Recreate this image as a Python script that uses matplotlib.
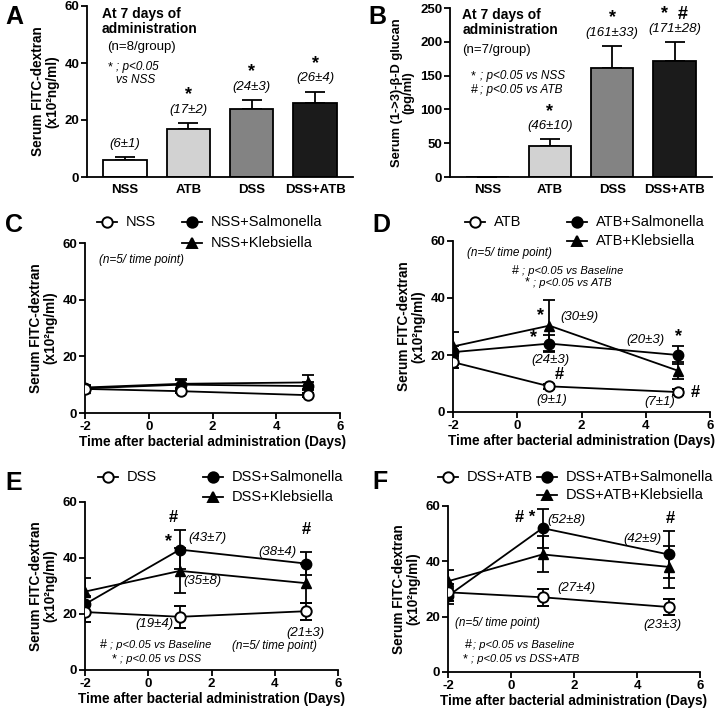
import matplotlib
matplotlib.use("Agg")
import matplotlib.pyplot as plt
from matplotlib.lines import Line2D

plt.rcParams['font.family'] = ['Liberation Sans', 'DejaVu Sans']
plt.rcParams['axes.unicode_minus'] = False

W, H = 720, 709

# ---- panels A and B (bars) ----
groups = ['NSS', 'ATB', 'DSS', 'DSS+ATB']
bar_colors = ['white', '#d2d2d2', '#838383', '#1b1b1b']
fitc_mean = [6, 17, 24, 26]
fitc_sem = [1, 2, 3, 4]
fitc_text = ['(6±1)', '(17±2)', '(24±3)', '(26±4)']
fitc_star = ['', '*', '*', '*']
glucan_mean = [0, 46, 161, 171]
glucan_sem = [0, 10, 33, 28]
glucan_text = ['', '(46±10)', '(161±33)', '(171±28)']
glucan_star = ['', '*', '*', '*  #']

# ---- panels C-F (time course) ----
days = [-2, 1, 5]

c_base = [8.5, 7.7, 6.3]
c_base_err = [0.8, 0.8, 0.8]
c_sal = [8.7, 10.0, 9.5]
c_sal_err = [0.8, 2.0, 1.5]
c_kleb = [9.0, 10.3, 10.8]
c_kleb_err = [0.8, 1.5, 2.5]

d_base = [17.5, 9.0, 7.0]
d_base_err = [2.0, 1.0, 1.0]
d_sal = [21.0, 24.0, 20.0]
d_sal_err = [2.0, 3.0, 3.0]
d_kleb = [23.0, 30.3, 14.5]
d_kleb_err = [5.0, 9.0, 3.0]

e_base = [20.7, 19.0, 21.0]
e_base_err = [3.5, 4.0, 3.0]
e_sal = [23.5, 43.0, 38.0]
e_sal_err = [3.0, 7.0, 4.0]
e_kleb = [28.0, 35.4, 31.0]
e_kleb_err = [5.0, 8.0, 7.0]

f_base = [28.8, 27.0, 23.5]
f_base_err = [3.0, 3.0, 3.0]
f_sal = [27.5, 52.0, 42.5]
f_sal_err = [3.0, 7.0, 8.5]
f_kleb = [32.8, 42.5, 38.0]
f_kleb_err = [4.0, 6.5, 7.5]


def px_axes(left, top, right, bottom):
    # rectangle given in picture pixels
    return fig.add_axes([left / W, 1 - bottom / H, (right - left) / W, (bottom - top) / H])


def style(ax):
    for s in ['top', 'right']:
        ax.spines[s].set_visible(False)
    for s in ['left', 'bottom']:
        ax.spines[s].set_linewidth(1.3)
    ax.tick_params(width=1.3, length=4, labelsize=9.5, pad=1.5)
    for lab in ax.get_xticklabels() + ax.get_yticklabels():
        lab.set_fontweight('bold')


def bar_panel(ax, mean, sem, texts, stars, px_per_unit, ylim, yticks):
    x = list(range(len(groups)))
    ax.bar(x, mean, width=0.68, color=bar_colors, edgecolor='black', linewidth=1.3, zorder=2)
    ax.errorbar(x, mean, yerr=[[0] * len(sem), sem], fmt='none', ecolor='black',
                elinewidth=1.3, capsize=7, capthick=1.3, zorder=1)
    for i in x:
        if texts[i]:
            top = mean[i] + sem[i]
            lab_y = top + 13 / px_per_unit
            ax.text(i, lab_y, texts[i], ha='center', va='center',
                    fontsize=9.5, style='italic')
            ax.text(i, lab_y + 15 / px_per_unit, stars[i], ha='center', va='center',
                    fontsize=13, fontweight='bold')
    ax.set_xticks(x)
    ax.set_xticklabels(groups)
    ax.set_xlim(-0.6, 3.6)
    ax.set_ylim(*ylim)
    ax.set_yticks(yticks)
    style(ax)
    ax.tick_params(axis='x', length=0, pad=5)


def line_panel(ax, base, base_err, sal, sal_err, kleb, kleb_err):
    kw = dict(color='black', lw=1.3, elinewidth=1.3, capsize=4, capthick=1.3, ms=7.5)
    ax.errorbar(days, kleb, yerr=kleb_err, fmt='-^', zorder=3, **kw)
    ax.errorbar(days, sal, yerr=sal_err, fmt='-o', zorder=4, **kw)
    ax.errorbar(days, base, yerr=base_err, fmt='-o', mfc='white', mew=1.4, zorder=5, **kw)
    ax.set_xlim(-2, 6)
    ax.set_ylim(0, 60)
    ax.set_xticks([-2, 0, 2, 4, 6])
    ax.set_yticks([0, 20, 40, 60])
    style(ax)
    ax.set_xlabel('Time after bacterial administration (Days)', fontsize=9.8,
                  fontweight='bold', labelpad=2)
    ax.set_ylabel('Serum FITC-dextran\n(x10²ng/ml)', fontsize=9.8, fontweight='bold',
                  labelpad=4, linespacing=1.0)


def legend(entries):
    # entries: (marker, filled, x_px, y_px, text)
    for marker, filled, cx, cy, txt in entries:
        fx, fy = cx / W, 1 - cy / H
        fig.add_artist(Line2D([fx - 10 / W, fx + 10 / W], [fy, fy], color='black', lw=1.3,
                              transform=fig.transFigure))
        fig.add_artist(Line2D([fx], [fy], marker=marker, ms=7.5, color='black', mew=1.4,
                              mfc='black' if filled else 'white', transform=fig.transFigure))
        fig.text(fx + 19 / W, fy, txt, fontsize=10.5, va='center', ha='left')


def it(ax, x, y, s, ha='left', size=8.5):
    ax.text(x, y, s, ha=ha, va='center', style='italic', fontsize=size)


def mark(ax, x, y, s='*', size=13):
    ax.text(x, y, s, ha='center', va='center', fontsize=size, fontweight='bold')


fig = plt.figure(figsize=(W / 100, H / 100), dpi=100)

# panel A
axA = px_axes(87, 6, 353, 177)
bar_panel(axA, fitc_mean, fitc_sem, fitc_text, fitc_star, 2.85, (0, 60), [0, 20, 40, 60])
axA.set_ylabel('Serum FITC-dextran\n(x10²ng/ml)', fontsize=9.8, fontweight='bold',
               labelpad=4, linespacing=1.0)
axA.text(-0.37, 59.5, 'At 7 days of\nadministration', fontsize=10, fontweight='bold',
         va='top', ha='left', linespacing=1.05)
axA.text(-0.28, 45.5, '(n=8/group)', fontsize=9.5, va='center')
axA.text(-0.28, 38.6, '*', fontsize=9, va='center')
it(axA, -0.14, 38.6, '; p<0.05')
it(axA, -0.14, 34.0, 'vs NSS')

# panel B
axB = px_axes(450, 8, 712, 177)
bar_panel(axB, glucan_mean, glucan_sem, glucan_text, glucan_star, 0.676, (0, 250),
          [0, 50, 100, 150, 200, 250])
axB.set_ylabel('Serum (1->3)-β-D glucan\n(pg/ml)', fontsize=9.3, fontweight='bold',
               labelpad=4, linespacing=1.0)
axB.text(-0.4, 250, 'At 7 days of\nadministration', fontsize=10, fontweight='bold',
         va='top', ha='left', linespacing=1.05)
axB.text(-0.4, 188, '(n=7/group)', fontsize=9.5, va='center')
axB.text(-0.26, 149, '*', fontsize=9, va='center')
it(axB, -0.12, 149, '; p<0.05 vs NSS')
axB.text(-0.26, 129, '#', fontsize=9, va='center')
it(axB, -0.12, 129, '; p<0.05 vs ATB')

# panel C
axC = px_axes(85, 243, 340, 413)
line_panel(axC, c_base, c_base_err, c_sal, c_sal_err, c_kleb, c_kleb_err)
it(axC, -1.55, 54, '(n=5/ time point)')
legend([('o', False, 107, 222, 'NSS'), ('o', True, 192, 222, 'NSS+Salmonella'),
        ('^', True, 192, 243, 'NSS+Klebsiella')])

# panel D
axD = px_axes(453, 241, 710, 412)
line_panel(axD, d_base, d_base_err, d_sal, d_sal_err, d_kleb, d_kleb_err)
it(axD, -1.56, 55.8, '(n=5/ time point)')
axD.text(-0.16, 49.5, '#', fontsize=9, va='center')
it(axD, 0.15, 49.5, '; p<0.05 vs Baseline', size=8)
axD.text(0.24, 45.3, '*', fontsize=9, va='center')
it(axD, 0.5, 45.3, '; p<0.05 vs ATB', size=8)
mark(axD, 0.71, 34)
mark(axD, 0.52, 26)
it(axD, 1.33, 33.4, '(30±9)', size=9.5)
it(axD, 1.02, 18.2, '(24±3)', ha='center', size=9.5)
mark(axD, 1.3, 13.3, '#', 12)
it(axD, 1.08, 4.2, '(9±1)', ha='center', size=9.5)
it(axD, 3.98, 25.3, '(20±3)', ha='center', size=9.5)
mark(axD, 5.03, 26.3)
it(axD, 4.44, 3.5, '(7±1)', ha='center', size=9.5)
mark(axD, 5.55, 7, '#', 12)
legend([('o', False, 475, 222, 'ATB'), ('o', True, 577, 222, 'ATB+Salmonella'),
        ('^', True, 577, 241, 'ATB+Klebsiella')])

# panel E
axE = px_axes(85, 502, 338, 670)
line_panel(axE, e_base, e_base_err, e_sal, e_sal_err, e_kleb, e_kleb_err)
mark(axE, 0.78, 54.6, '#', 12)
mark(axE, 0.63, 45.7)
it(axE, 1.26, 47, '(43±7)', size=9.5)
it(axE, 1.1, 31.8, '(35±8)', size=9.5)
it(axE, 0.21, 16.4, '(19±4)', ha='center', size=9.5)
it(axE, 4.07, 42, '(38±4)', ha='center', size=9.5)
mark(axE, 5.0, 50, '#', 12)
it(axE, 4.96, 13.3, '(21±3)', ha='center', size=9.5)
it(axE, 4.0, 8.6, '(n=5/ time point)', ha='center')
axE.text(-1.53, 8.9, '#', fontsize=9, va='center')
it(axE, -1.22, 8.9, '; p<0.05 vs Baseline', size=8)
axE.text(-1.15, 3.9, '*', fontsize=9, va='center')
it(axE, -0.88, 3.9, '; p<0.05 vs DSS', size=8)
legend([('o', False, 108, 477, 'DSS'), ('o', True, 213, 477, 'DSS+Salmonella'),
        ('^', True, 213, 497, 'DSS+Klebsiella')])

# panel F
axF = px_axes(448, 506, 700, 672)
line_panel(axF, f_base, f_base_err, f_sal, f_sal_err, f_kleb, f_kleb_err)
mark(axF, 0.44, 56, '# *', 12)
it(axF, 1.17, 55, '(52±8)', size=9.5)
it(axF, 4.16, 48, '(42±9)', ha='center', size=9.5)
mark(axF, 5.05, 55.6, '#', 12)
it(axF, 1.46, 30.3, '(27±4)', size=9.5)
it(axF, 4.8, 17, '(23±3)', ha='center', size=9.5)
it(axF, -0.44, 17.7, '(n=5/ time point)', ha='center')
axF.text(-1.46, 9.7, '#', fontsize=9, va='center')
it(axF, -1.2, 9.7, '; p<0.05 vs Baseline', size=8)
axF.text(-1.52, 4.7, '*', fontsize=9, va='center')
it(axF, -1.26, 4.7, '; p<0.05 vs DSS+ATB', size=8)
legend([('o', False, 448, 477, 'DSS+ATB'), ('o', True, 547, 477, 'DSS+ATB+Salmonella'),
        ('^', True, 547, 495, 'DSS+ATB+Klebsiella')])

# panel letters
for letter, x, y in [('A', 5, 5), ('B', 368, 5), ('C', 5, 213), ('D', 372, 213),
                     ('E', 5, 471), ('F', 372, 470)]:
    fig.text(x / W, 1 - y / H, letter, fontsize=18, fontweight='bold', va='top', ha='left')

fig.savefig('out.png', dpi=100)
